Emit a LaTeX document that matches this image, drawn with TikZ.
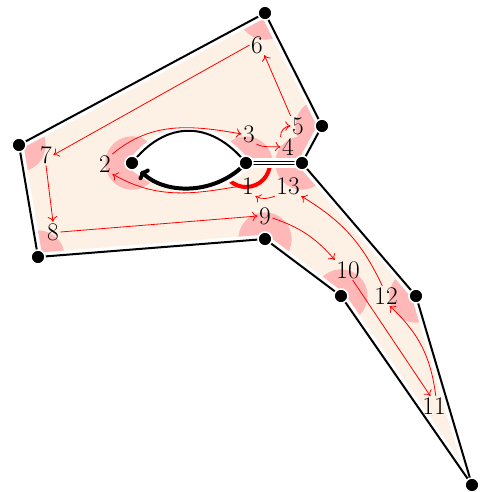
\documentclass[tikz,border=0pt]{standalone}
\usepackage{fontspec}
\usetikzlibrary{angles,arrows.meta}
\definecolor{fillorange}{RGB}{253,240,228}
\definecolor{wedgepink}{RGB}{255,184,184}
\begin{document}
\begin{tikzpicture}[x=0.75pt,y=0.75pt,
  lbl/.style={inner sep=1pt, font=\fontsize{19}{19}\selectfont},
  redarrow/.style={red, line width=0.6pt, -{Computer Modern Rightarrow[length=4pt,width=7pt]}},
  halo/.style={white, line width=6.5pt, line join=round},
  polyline/.style={black, line width=1.5pt, line join=round},
  vdot/.style={circle, fill=black, draw=white, line width=1.2pt, inner sep=0pt, minimum size=10.5pt},
  pinkwedge/.style={fill=wedgepink, angle radius=20pt},
]
\useasboundingbox (0,0) rectangle (483,-492);
% vertices
\coordinate (A) at (265,-13);
\coordinate (B) at (322,-126);
\coordinate (C) at (302,-163);
\coordinate (D) at (246,-163);
\coordinate (E) at (132,-163);
\coordinate (F) at (19,-145);
\coordinate (G) at (38,-257);
\coordinate (H) at (265,-239);
\coordinate (I) at (341,-296);
\coordinate (J) at (472,-485);
\coordinate (K) at (416,-296);
% curve controls
\coordinate (Eu) at (166,-120);
\coordinate (Du) at (211,-120);
\coordinate (Dl) at (216,-195);
\coordinate (El) at (166,-195);
% fill
\fill[fillorange] (A) -- (B) -- (C) -- (K) -- (J) -- (I) -- (H) -- (G) -- (F) -- cycle;
\fill[white] (E) .. controls (Eu) and (Du) .. (D) .. controls (Dl) and (El) .. (E) -- cycle;
% angle wedges
\pic[pinkwedge] {angle=Eu--E--El};
\pic[pinkwedge] {angle=C--D--Du};
\pic[pinkwedge] {angle=B--C--D};
\pic[pinkwedge] {angle=A--B--C};
\pic[pinkwedge] {angle=F--A--B};
\pic[pinkwedge] {angle=G--F--A};
\pic[pinkwedge] {angle=H--G--F};
\pic[pinkwedge] {angle=I--H--G};
\pic[pinkwedge] {angle=J--I--H};
\pic[pinkwedge] {angle=K--J--I};
\pic[pinkwedge] {angle=C--K--J};
\pic[pinkwedge] {angle=D--C--K};
\pic[draw=red, line width=3pt, angle radius=18pt] {angle=Dl--D--C};
% halos
\draw[halo] (A) -- (B) -- (C) -- (K) -- (J) -- (I) -- (H) -- (G) -- (F) -- cycle;
\draw[halo, line width=8pt] (C) -- (D);
\draw[halo] (E) .. controls (Eu) and (Du) .. (D);
\draw[halo, line width=8pt] (D) .. controls (Dl) and (El) .. (E);
% black lines
\draw[polyline] (A) -- (B) -- (C) -- (K) -- (J) -- (I) -- (H) -- (G) -- (F) -- cycle;
\draw[black, line width=1pt, double=white, double distance=1.5pt] (C) -- (D);
\draw[polyline] (E) .. controls (Eu) and (Du) .. (D);
\draw[black, line width=3pt, shorten >=9pt, -{Computer Modern Rightarrow[length=5pt,width=11pt]}] (D) .. controls (Dl) and (El) .. (E);
% dots
\foreach \v in {A,B,C,D,E,F,G,H,I,J,K} \node[vdot] (d\v) at (\v) {};
% labels
\node[lbl] (l1) at (248,-186) {1};
\node[lbl] (l2) at (105,-164) {2};
\node[lbl] (l3) at (249,-134) {3};
\node[lbl] (l4) at (288,-147) {4};
\node[lbl] (l5) at (298,-126) {5};
\node[lbl] (l6) at (257,-45) {6};
\node[lbl] (l7) at (46,-155) {7};
\node[lbl] (l8) at (53,-232) {8};
\node[lbl] (l9) at (265,-216) {9};
\node[lbl] (l10) at (348,-270) {10};
\node[lbl] (l11) at (434,-406) {11};
\node[lbl] (l12) at (386,-296) {12};
\node[lbl] (l13) at (288,-186) {13};
% red arrows
\draw[redarrow] (l1.west) to[out=190,in=-30] (l2.south east);
\draw[redarrow] (l2.north east) to[out=40,in=170] (l3.west);
\draw[redarrow] (l3.south east) to[out=-25,in=175] (l4.west);
\draw[redarrow] (l4.north west) to[out=95,in=180] (l5.west);
\draw[redarrow] (l5.north west) -- (l6.south east);
\draw[redarrow] (l6.west) -- (l7.east);
\draw[redarrow] (l7.south) -- (l8.north);
\draw[redarrow] (l8.east) -- (l9.west);
\draw[redarrow] (l9.-15) to[bend left=15] (l10.north west);
\draw[redarrow] (l10.-65) -- (l11.110);
\draw[redarrow] (l11.80) to[bend right=20] (l12.-70);
\draw[redarrow] (l12.110) to[bend right=17] (l13.south east);
\draw[redarrow] (l13.south west) to[out=200,in=-30] (l1.south east);
\end{tikzpicture}
\end{document}
